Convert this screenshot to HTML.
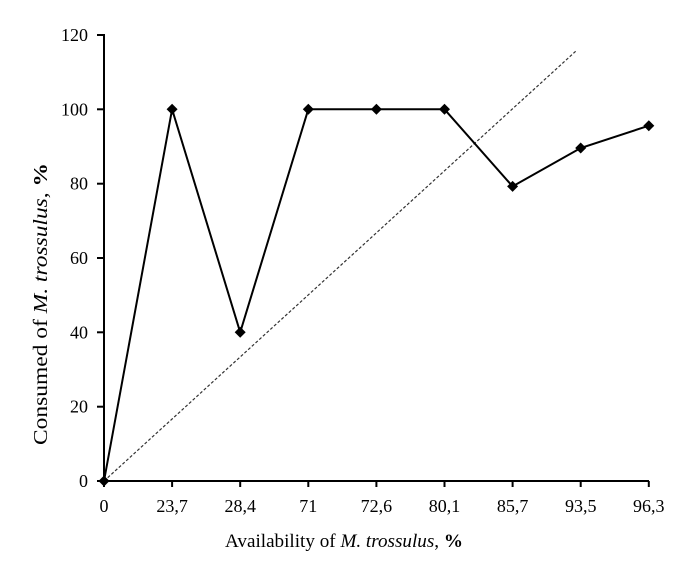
<!DOCTYPE html>
<html>
<head>
<meta charset="utf-8">
<style>
  html,body{margin:0;padding:0;background:#fff;}
  svg{display:block;}
  text{font-family:"Liberation Serif","Times New Roman",serif;fill:#000;}
</style>
</head>
<body>
<svg width="697" height="563" viewBox="0 0 697 563" xmlns="http://www.w3.org/2000/svg">
  <rect width="697" height="563" fill="#fff"/>
  <!-- dotted diagonal -->
  <line x1="104" y1="481" x2="576" y2="51" stroke="#333" stroke-width="1.2" stroke-dasharray="3,2"/>
  <!-- axes -->
  <line x1="104" y1="34" x2="104" y2="482" stroke="#000" stroke-width="2"/>
  <line x1="103" y1="481" x2="649" y2="481" stroke="#000" stroke-width="2"/>
  <!-- y ticks -->
  <g stroke="#000" stroke-width="2">
    <line x1="97" y1="35" x2="104" y2="35"/>
    <line x1="97" y1="109.3" x2="104" y2="109.3"/>
    <line x1="97" y1="183.7" x2="104" y2="183.7"/>
    <line x1="97" y1="258" x2="104" y2="258"/>
    <line x1="97" y1="332.3" x2="104" y2="332.3"/>
    <line x1="97" y1="406.7" x2="104" y2="406.7"/>
    <line x1="97" y1="481" x2="104" y2="481"/>
  </g>
  <!-- x ticks -->
  <g stroke="#000" stroke-width="2">
    <line x1="104" y1="481" x2="104" y2="487"/>
    <line x1="172.1" y1="481" x2="172.1" y2="487"/>
    <line x1="240.2" y1="481" x2="240.2" y2="487"/>
    <line x1="308.3" y1="481" x2="308.3" y2="487"/>
    <line x1="376.4" y1="481" x2="376.4" y2="487"/>
    <line x1="444.5" y1="481" x2="444.5" y2="487"/>
    <line x1="512.6" y1="481" x2="512.6" y2="487"/>
    <line x1="580.7" y1="481" x2="580.7" y2="487"/>
    <line x1="648.8" y1="481" x2="648.8" y2="487"/>
  </g>
  <!-- y tick labels -->
  <g font-size="18" text-anchor="end">
    <text x="88" y="41">120</text>
    <text x="88" y="115.3">100</text>
    <text x="88" y="189.7">80</text>
    <text x="88" y="264">60</text>
    <text x="88" y="338.3">40</text>
    <text x="88" y="412.7">20</text>
    <text x="88" y="487">0</text>
  </g>
  <!-- x tick labels -->
  <g font-size="18" text-anchor="middle">
    <text x="104" y="512">0</text>
    <text x="172.1" y="512">23,7</text>
    <text x="240.2" y="512">28,4</text>
    <text x="308.3" y="512">71</text>
    <text x="376.4" y="512">72,6</text>
    <text x="444.5" y="512">80,1</text>
    <text x="512.6" y="512">85,7</text>
    <text x="580.7" y="512">93,5</text>
    <text x="648.8" y="512">96,3</text>
  </g>
  <!-- data line -->
  <polyline fill="none" stroke="#000" stroke-width="2" stroke-linejoin="miter"
    points="104,481 172.1,109.3 240.2,332.3 308.3,109.3 376.4,109.3 444.5,109.3 512.6,186.4 580.7,148 648.8,125.7"/>
  <!-- markers -->
  <g fill="#000">
    <polygon points="104,475.5 109.5,481 104,486.5 98.5,481"/>
    <polygon points="172.1,103.8 177.6,109.3 172.1,114.8 166.6,109.3"/>
    <polygon points="240.2,326.8 245.7,332.3 240.2,337.8 234.7,332.3"/>
    <polygon points="308.3,103.8 313.8,109.3 308.3,114.8 302.8,109.3"/>
    <polygon points="376.4,103.8 381.9,109.3 376.4,114.8 370.9,109.3"/>
    <polygon points="444.5,103.8 450,109.3 444.5,114.8 439,109.3"/>
    <polygon points="512.6,180.9 518.1,186.4 512.6,191.9 507.1,186.4"/>
    <polygon points="580.7,142.5 586.2,148 580.7,153.5 575.2,148"/>
    <polygon points="648.8,120.2 654.3,125.7 648.8,131.2 643.3,125.7"/>
  </g>
  <!-- x axis title -->
  <text x="225" y="547" font-size="19" textLength="238" lengthAdjust="spacingAndGlyphs">Availability of <tspan font-style="italic">M. trossulus</tspan>, <tspan font-weight="bold">%</tspan></text>
  <!-- y axis title -->
  <text transform="translate(47,304) rotate(-90)" x="0" y="0" font-size="20" text-anchor="middle" textLength="282" lengthAdjust="spacingAndGlyphs">Consumed of <tspan font-style="italic">M. trossulus</tspan>, <tspan font-weight="bold">%</tspan></text>
</svg>
</body>
</html>
